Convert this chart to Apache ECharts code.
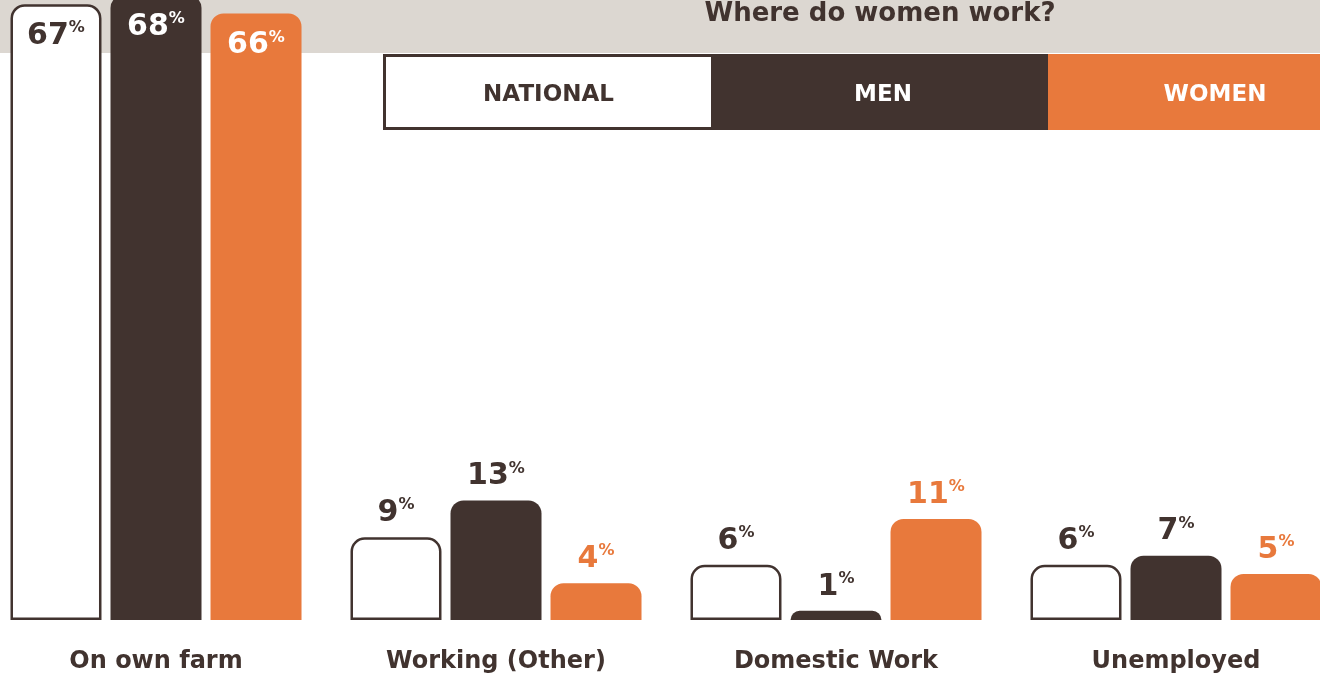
<!DOCTYPE html>
<html>
<head>
<meta charset="utf-8">
<script src="https://cdn.jsdelivr.net/npm/echarts@6/dist/echarts.min.js"></script>
<style>
html,body{margin:0;padding:0;}
#chart{width:1320px;height:674px;background:linear-gradient(#dcd7d1 0,#dcd7d1 53px,#ffffff 53px,#ffffff 100%);}
</style>
</head>
<body>
<div id="chart"></div>
<script>
var categories = ['On own farm', 'Working (Other)', 'Domestic Work', 'Unemployed'];
var seriesNames = ['National', 'Men', 'Women'];
var legendLabels = ['NATIONAL', 'MEN', 'WOMEN'];
var nationalValues = [67, 9, 6, 6];
var menValues = [68, 13, 1, 7];
var womenValues = [66, 4, 11, 5];
var titleText = 'Where do women work?';

var DARK = '#41332f', ORANGE = '#e8793c', WHITE = '#ffffff';
var FONT = 'DejaVu Sans';

function richLabel(color) {
  return {
    n: {fontSize: 30, fontWeight: 'bold', color: color, fontFamily: FONT, lineHeight: 32},
    p: {fontSize: 16, fontWeight: 'bold', color: color, fontFamily: FONT, verticalAlign: 'top', lineHeight: 16}
  };
}

function makeData(values, smallColor, bigColor) {
  return values.map(function (v) {
    var big = v > 30;
    return {
      value: v,
      label: {
        show: true,
        position: big ? 'insideTop' : 'top',
        distance: big ? 16 : 8,
        formatter: '{n|{c}}{p|%}',
        rich: richLabel(big ? bigColor : smallColor)
      }
    };
  });
}

var chart = echarts.init(document.getElementById('chart'), null, {renderer: 'canvas'});

var legendGraphics = [];
var legendFill = [WHITE, DARK, ORANGE];
var legendText = [DARK, WHITE, WHITE];
var legendX = [384.5, 714, 1048];
var legendW = [328, 334, 334];
var legendCx = [548.5, 883, 1215];
legendLabels.forEach(function (t, i) {
  legendGraphics.push({
    type: 'rect',
    x: legendX[i],
    y: i === 0 ? 55.5 : 54,
    shape: {width: legendW[i], height: i === 0 ? 73 : 76},
    style: {fill: legendFill[i], stroke: i === 0 ? DARK : null, lineWidth: i === 0 ? 3 : 0},
    z: i === 0 ? 11 : 10
  });
  legendGraphics.push({
    type: 'text',
    x: legendCx[i],
    y: 95,
    style: {text: t, fill: legendText[i], font: 'bold 23px ' + FONT, align: 'center', verticalAlign: 'middle'},
    z: 12
  });
});

chart.setOption({
  animation: false,
  title: {
    text: titleText,
    left: 875,
    textAlign: 'center',
    top: -4,
    textStyle: {fontSize: 26, fontWeight: 'bold', color: DARK, fontFamily: FONT}
  },
  graphic: legendGraphics,
  grid: {left: -14, right: -26, top: -5, bottom: 54, outerBoundsMode: 'none'},
  xAxis: {
    type: 'category',
    data: categories,
    axisLine: {show: false},
    axisTick: {show: false},
    axisLabel: {margin: 30, fontSize: 24, fontWeight: 'bold', color: DARK, fontFamily: FONT}
  },
  yAxis: {type: 'value', min: 0, max: 68, show: false, splitLine: {show: false}},
  series: [
    {
      name: seriesNames[0], type: 'bar', barWidth: 91, barGap: '9.9%',
      itemStyle: {color: WHITE, borderColor: DARK, borderWidth: 2.5, borderRadius: [13, 13, 0, 0]},
      data: makeData(nationalValues, DARK, DARK)
    },
    {
      name: seriesNames[1], type: 'bar', barWidth: 91, barGap: '9.9%',
      itemStyle: {color: DARK, borderRadius: [13, 13, 0, 0]},
      data: makeData(menValues, DARK, WHITE)
    },
    {
      name: seriesNames[2], type: 'bar', barWidth: 91, barGap: '9.9%',
      itemStyle: {color: ORANGE, borderRadius: [13, 13, 0, 0]},
      data: makeData(womenValues, ORANGE, WHITE)
    }
  ]
});
</script>
</body>
</html>
